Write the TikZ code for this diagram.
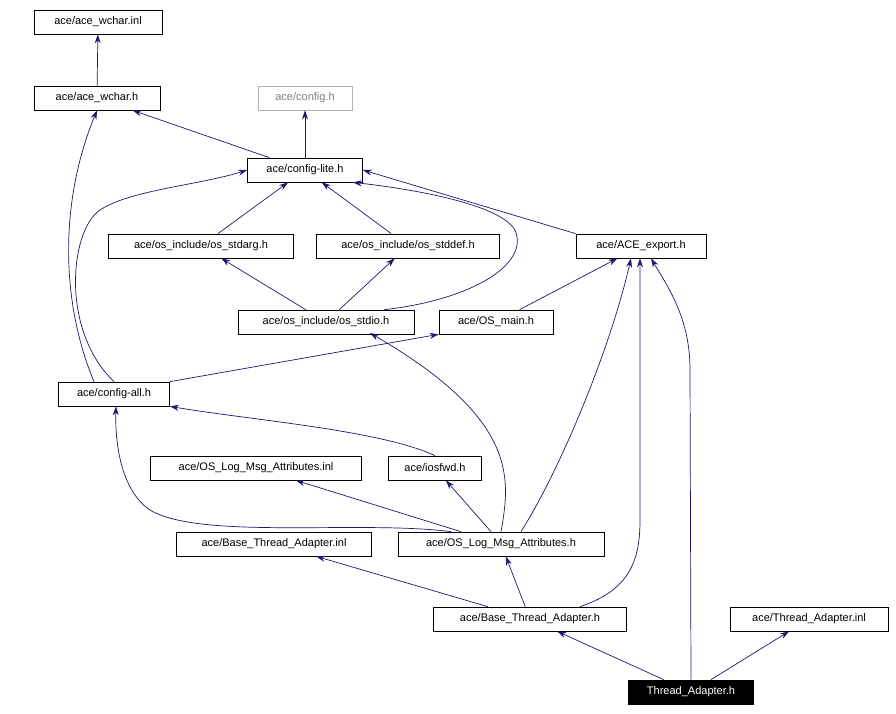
\documentclass[tikz,border=0pt]{standalone}
\usepackage{fontspec}
\setmainfont{Liberation Sans}
\usetikzlibrary{arrows.meta}
\definecolor{edge}{RGB}{25,25,112}
\begin{document}
\begin{tikzpicture}[x=1pt,y=-1pt,
  box/.style={draw=black,line width=0.7pt,fill=white,inner sep=0pt,minimum height=24pt,font=\fontsize{11}{13}\selectfont},
  e/.style={draw=edge,line width=0.7pt,-{Stealth[length=9pt,width=6pt]},fill=none}]
\useasboundingbox (0,0) rectangle (896,714);
\node[box,minimum width=128pt] (winl) at (98,22) {ace/ace\_wchar.inl};
\node[box,minimum width=126pt] (wh) at (97,98) {ace/ace\_wchar.h};
\node[box,minimum width=94pt,draw=gray!60,text=gray] (cfg) at (305,98) {ace/config.h};
\node[box,minimum width=115pt] (cl) at (305,170) {ace/config-lite.h};
\node[box,minimum width=185pt] (sarg) at (201,246) {ace/os\_include/os\_stdarg.h};
\node[box,minimum width=183pt] (sdef) at (408,246) {ace/os\_include/os\_stddef.h};
\node[box,minimum width=130pt] (exp) at (641,246) {ace/ACE\_export.h};
\node[box,minimum width=176pt] (sio) at (326,322) {ace/os\_include/os\_stdio.h};
\node[box,minimum width=114pt] (om) at (496,322) {ace/OS\_main.h};
\node[box,minimum width=111pt] (ca) at (114,394) {ace/config-all.h};
\node[box,minimum width=93pt] (ios) at (435,468) {ace/iosfwd.h};
\node[box,minimum width=211pt] (lmi) at (256,468) {ace/OS\_Log\_Msg\_Attributes.inl};
\node[box,minimum width=195pt] (bti) at (274,544) {ace/Base\_Thread\_Adapter.inl};
\node[box,minimum width=206pt] (lmh) at (501,544) {ace/OS\_Log\_Msg\_Attributes.h};
\node[box,minimum width=193pt] (bth) at (530,619) {ace/Base\_Thread\_Adapter.h};
\node[box,minimum width=158pt] (tai) at (809,619) {ace/Thread\_Adapter.inl};
\node[box,minimum width=125pt,fill=black,text=white] (tah) at (691,692) {Thread\_Adapter.h};

\draw[e] (wh) -- (winl);
\draw[e] (cl) -- (wh);
\draw[e] (cl) -- (cfg);
\draw[e] (sarg) -- (cl);
\draw[e] (sdef) -- (cl);
\draw[e] (exp.north west) -- (cl.east);
\draw[e] (sio) -- (sarg);
\draw[e] (sio) -- (sdef);
\draw[e] ([xshift=-30pt]sio.north east) .. controls (470,300) and (530,265) .. (515,230) .. controls (500,205) and (420,190) .. ([xshift=-10pt]cl.south east);
\draw[e] (om) -- (exp);
\draw[e] ([xshift=-20pt]ca.north) .. controls (60,300) and (60,200) .. (wh.south);
\draw[e] (ca.north) .. controls (60,330) and (70,230) .. (100,210) .. controls (130,190) and (200,185) .. (cl.west);
\draw[e] (ca.north east) -- (om.south west);
\draw[e] (ios.north) .. controls (380,430) and (250,420) .. (ca.south east);
\draw[e] ([xshift=-40pt]lmh.north) -- (lmi);
\draw[e] ([xshift=-10pt]lmh.north) -- (ios);
\draw[e] (lmh.north) .. controls (510,480) and (520,420) .. (370,333);
\draw[e] ([xshift=-50pt]lmh.north) .. controls (360,520) and (200,540) .. (150,510) .. controls (120,490) and (115,440) .. ([xshift=2pt]ca.south);
\draw[e] ([xshift=20pt]lmh.north) .. controls (560,470) and (610,350) .. ([xshift=-10pt]exp.south);
\draw[e] (bth) -- (bti);
\draw[e] (bth) -- (lmh);
\draw[e] ([xshift=50pt]bth.north) .. controls (630,590) and (640,560) .. (640,520) -- ([xshift=-1pt]exp.south);
\draw[e] (tah.north) -- (690,370) .. controls (690,320) and (670,290) .. ([xshift=10pt]exp.south);
\draw[e] (tah) -- (bth);
\draw[e] (tah) -- (tai);
\end{tikzpicture}
\end{document}
